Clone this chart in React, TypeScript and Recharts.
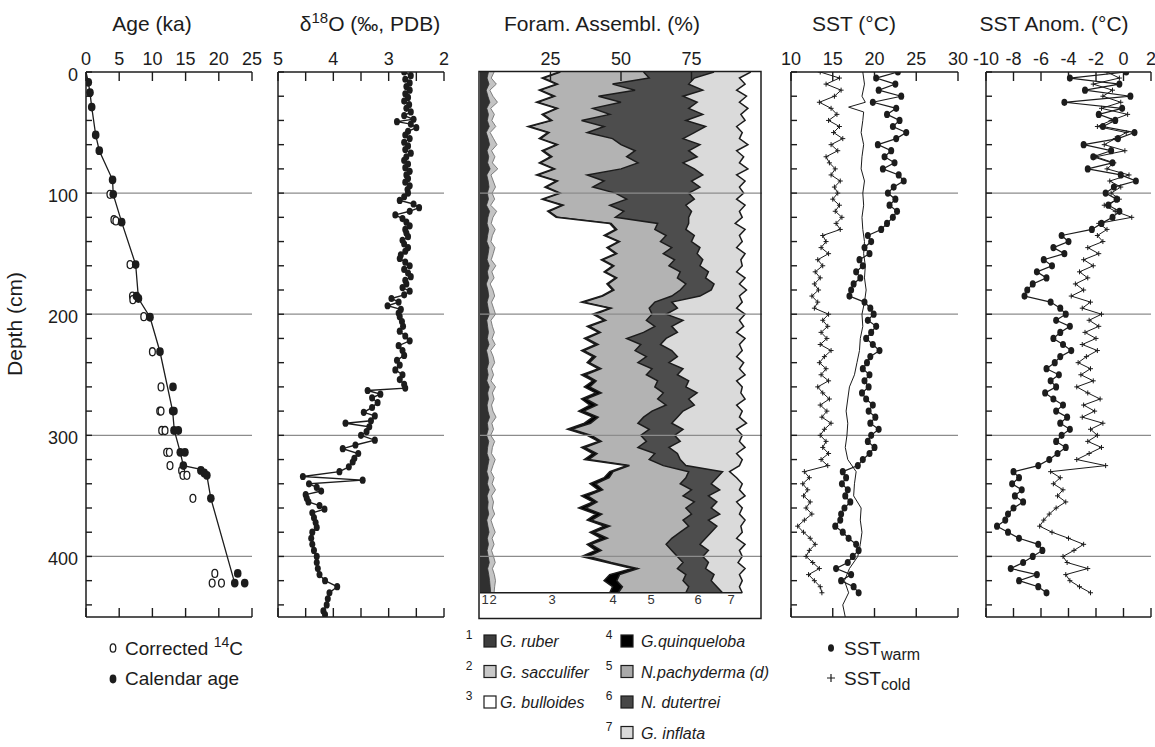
import React from 'react'
import {
    ScatterChart,
    ComposedChart,
    Scatter,
    Area,
    XAxis,
    YAxis,
    ReferenceLine,
} from 'recharts'

const FONT = '"Liberation Sans", Arial, Helvetica, sans-serif'
const INK = '#1c1c1c'
const GRID = '#8c8c8c'

const CHART_H = 640
const PLOT_TOP = 72
const PLOT_BOTTOM = 617

// shared depth axis
const depthTicks = [0, 20, 40, 60, 80, 100, 120, 140, 160, 180, 200, 220, 240, 260, 280, 300, 320, 340, 360, 380, 400, 420, 440]
const depthLabels = [0, 100, 200, 300, 400]
const gridDepths = [100, 200, 300, 400]

// ---- Age model ----
const calDepth = [8.5, 17, 29, 52, 65, 89, 101, 124, 159, 185, 187, 202.5, 231, 260, 280, 280, 296, 296, 314, 314, 325, 329, 331, 333, 352, 414, 422, 422]
const calAge = [0.35, 0.6, 0.86, 1.46, 2.0, 4.0, 4.1, 5.37, 7.48, 7.6, 7.9, 9.64, 11.14, 13.1, 13.05, 13.25, 13.25, 13.9, 14.2, 14.9, 14.66, 17.3, 17.8, 18.2, 18.8, 22.85, 22.4, 23.9]
const c14Depth = [101, 122, 123, 159, 185, 188, 202, 231, 260, 280, 280, 296, 296, 314, 314, 325, 329, 333, 333, 352, 414, 422, 422]
const c14Age = [3.6, 4.2, 4.5, 6.63, 7.0, 7.05, 8.7, 10.0, 11.3, 11.1, 11.3, 11.4, 11.9, 12.15, 12.55, 12.65, 14.4, 14.6, 15.2, 16.1, 19.4, 19.0, 20.4]
const ageLineDepth = [0, 8.5, 17, 29, 52, 65, 89, 101, 124, 159, 187, 202.5, 231, 280, 296, 314, 325, 328, 333, 352, 422]
const ageLineAge = [0, 0.35, 0.6, 0.86, 1.46, 2.0, 4.0, 4.1, 5.37, 7.48, 7.9, 9.64, 11.14, 13.05, 13.3, 14.2, 14.66, 17.3, 18.2, 18.8, 22.4]

// ---- d18O ----
const d18Depth = [
    0, 3, 6, 9, 12, 15, 18, 21, 24, 27,
    30, 33, 36, 39, 41, 43, 46, 49, 52, 55,
    58, 61, 64, 67, 70, 73, 76, 79, 82, 85,
    88, 91, 94, 97, 100, 103, 106, 109, 112, 115,
    118, 121, 124, 127, 130, 133, 136, 139, 142, 145,
    148, 151, 154, 157, 160, 163, 166, 169, 172, 175,
    178, 181, 184, 187, 190, 193, 196, 199, 202, 206,
    210, 214, 218, 222, 226, 230, 234, 238, 242, 246,
    250, 254, 258, 261, 263, 266, 269, 273, 277, 281,
    284, 288, 290, 293, 297, 300, 304, 308, 311, 315,
    319, 322, 326, 330, 334, 337, 340, 343, 346, 349,
    352, 355, 358, 361, 364, 368, 372, 376, 380, 385,
    390, 395, 400, 405, 410, 415, 420, 425, 430, 435,
    440, 445, 448,
]
const d18Value = [
    2.72, 2.6, 2.7, 2.62, 2.68, 2.62, 2.7, 2.65, 2.72, 2.63,
    2.68, 2.6, 2.72, 2.55, 2.85, 2.6, 2.5, 2.65, 2.7, 2.62,
    2.72, 2.65, 2.7, 2.6, 2.68, 2.72, 2.65, 2.7, 2.62, 2.68,
    2.65, 2.7, 2.62, 2.66, 2.65, 2.72, 2.8, 2.55, 2.45, 2.62,
    2.88, 2.75, 2.68, 2.62, 2.7, 2.68, 2.65, 2.75, 2.72, 2.65,
    2.7, 2.78, 2.8, 2.7, 2.62, 2.72, 2.65, 2.6, 2.7, 2.68,
    2.75, 2.62, 2.72, 2.95, 2.82, 3.02, 2.78, 2.82, 2.8, 2.76,
    2.74, 2.8, 2.7, 2.62, 2.82, 2.75, 2.72, 2.85, 2.8, 2.88,
    2.75, 2.8, 2.72, 2.7, 3.38, 3.15, 3.3, 3.2, 3.3, 3.45,
    3.25, 3.32, 3.78, 3.35, 3.4, 3.5, 3.25, 3.6, 3.83, 3.55,
    3.62, 3.65, 3.72, 3.89, 4.55, 3.47, 4.44, 4.3, 4.22, 4.5,
    4.48, 4.45, 4.25, 4.16, 4.38, 4.35, 4.32, 4.3, 4.38, 4.4,
    4.38, 4.35, 4.3, 4.3, 4.28, 4.25, 4.15, 3.93, 4.07, 4.1,
    4.12, 4.18, 4.15,
]

// ---- Foram assemblage: cumulative % (right edge of each species band) ----
const foramDepth = [
    0, 5, 10, 15, 20, 25, 30, 35, 40, 45,
    50, 55, 60, 65, 70, 75, 80, 85, 90, 95,
    100, 105, 110, 115, 120, 125, 130, 135, 140, 145,
    150, 155, 160, 165, 170, 175, 180, 185, 190, 195,
    200, 205, 210, 215, 220, 225, 230, 235, 240, 245,
    250, 255, 260, 265, 270, 275, 280, 285, 290, 295,
    300, 305, 310, 315, 320, 325, 330, 335, 340, 345,
    350, 355, 360, 365, 370, 375, 380, 385, 390, 395,
    400, 405, 410, 415, 420, 425, 430,
]
const cumRuber = [
    3, 2.5, 3.2, 2.2, 2.8, 3.5, 2.4, 3, 2.6, 3.3,
    2.2, 2.9, 3.4, 2.5, 3.1, 2.7, 3.6, 2.4, 2.9, 3.2,
    2.6, 3, 2.3, 3.4, 2.8, 2.5, 3.1, 2.7, 2.4, 3.2,
    2.9, 2.5, 3.3, 2.6, 3, 2.2, 2.8, 3.1, 2.5, 2.9,
    3.3, 2.4, 2.7, 3, 2.6, 3.2, 2.3, 2.8, 3.1, 2.5,
    2.9, 2.4, 3.3, 2.7, 3, 2.5, 2.8, 3.4, 2.6, 2.9,
    2.3, 3.1, 2.7, 2.5, 3.2, 2.8, 2.4, 3, 2.6, 3.3,
    2.5, 2.9, 2.7, 3.1, 2.4, 2.8, 3.2, 2.6, 3, 2.5,
    2.9, 3.3, 2.7, 3.1, 3.4, 3.6, 3.8,
]
const cumSacculifer = [
    5, 4, 5.8, 3.5, 4.6, 6.2, 3.8, 5.1, 4.2, 5.6,
    3.6, 4.8, 6, 4.1, 5.3, 4.4, 6.3, 3.9, 4.7, 5.5,
    4.3, 5.2, 3.8, 5.9, 4.6, 4, 5.4, 4.4, 3.9, 5.3,
    4.7, 4, 5.6, 4.2, 5, 3.6, 4.6, 5.2, 4.1, 4.8,
    5.5, 3.9, 4.4, 5.1, 4.3, 5.4, 3.8, 4.7, 5.2, 4.1,
    4.8, 3.9, 5.5, 4.4, 5, 4.1, 4.6, 5.7, 4.2, 4.8,
    3.8, 5.2, 4.4, 4.1, 5.4, 4.6, 3.9, 5, 4.3, 5.5,
    4.1, 4.8, 4.4, 5.2, 3.9, 4.6, 5.4, 4.3, 5, 4.1,
    4.8, 5.4, 4.4, 5.1, 5.5, 5.2, 5,
]
const cumBulloides = [
    28, 22, 27, 21, 26, 20, 27, 22, 25, 17,
    24, 21, 27, 22, 25, 21, 26, 20, 27, 23,
    28, 22, 29, 24, 27, 46, 48, 44, 49, 45,
    48, 43, 47, 44, 48, 45, 47, 43, 36, 46,
    40, 44, 38, 42, 37, 41, 36, 40, 38, 42,
    36, 40, 37, 41, 36, 39, 35, 40, 37, 31,
    38, 42, 36, 40, 37, 52, 46, 44, 39, 42,
    36, 40, 35, 41, 38, 44, 39, 43, 38, 41,
    36, 45, 54, 46, 44, 47, 46,
]
const cumQuinqueloba = [
    28.5, 22.5, 27.5, 21.5, 26.5, 20.5, 27.5, 22.5, 25.5, 17.5,
    24.5, 21.5, 27.5, 22.5, 25.5, 21.5, 26.5, 20.5, 27.5, 23.5,
    28.5, 22.5, 29.5, 24.5, 27.5, 46.5, 48.5, 44.5, 49.5, 45.5,
    48.5, 43.5, 47.5, 44.5, 48.5, 45.5, 47.5, 43.5, 36.8, 46.5,
    40.8, 44.6, 38.9, 42.7, 37.8, 41.9, 36.9, 41, 38.8, 42.9,
    37.5, 41.2, 38.9, 43, 37.6, 41.5, 36.8, 41.9, 39.2, 32.5,
    39.5, 43, 37.2, 41.5, 38.5, 53, 47.2, 45.8, 41, 43.5,
    38.2, 41.5, 37.5, 43.2, 39.6, 46, 40.5, 45.2, 39.4, 43,
    38.5, 46.5, 56, 49.5, 48.5, 50.5, 49,
]
const cumPachyderma = [
    58, 60, 47, 55, 42, 50, 40, 46, 36, 44,
    38, 47, 50, 55, 52, 56, 50, 38, 44, 40,
    48, 52, 46, 51, 48, 63, 62, 66, 64, 68,
    65, 69, 67, 71, 70, 73, 71, 68, 62, 60,
    61, 59, 62, 58, 52, 57, 55, 59, 56, 61,
    59, 63, 62, 65, 63, 66, 61, 58, 56, 60,
    57, 59, 56, 62, 60, 65, 74, 73, 71, 75,
    72, 76, 73, 75, 72, 74, 71, 68, 66, 68,
    70, 72, 70, 73, 72, 74, 73,
]
const cumDutertrei = [
    83, 76, 74, 79, 72, 77, 74, 79, 73, 80,
    76, 72, 78, 74, 77, 72, 76, 79, 75, 78,
    74, 76, 73, 75, 74, 74, 73, 76, 75, 78,
    77, 79, 78, 81, 80, 83, 82, 78, 68, 70,
    66, 72, 68, 70, 66, 64, 68, 70, 67, 72,
    70, 74, 73, 77, 74, 76, 72, 70, 68, 72,
    69, 71, 67, 70, 71, 73, 86, 84, 82, 85,
    81, 84, 82, 85, 81, 84, 82, 80, 78, 81,
    79, 81, 80, 83, 82, 84, 86,
]
const cumInflata = [
    96, 92, 94, 91, 94.5, 92, 95, 92.5, 94, 91,
    93, 92, 95, 91, 93.5, 92, 95, 91, 94, 92,
    93.5, 91, 94, 92, 93, 90.5, 94, 92, 93, 91,
    94, 92.5, 93, 91, 94, 92, 94.5, 92, 93, 91,
    94, 92, 93.5, 91, 94, 92, 93, 91, 93.5, 92,
    94, 91, 93, 92.5, 94, 91, 93, 92, 94.5, 91,
    93, 92, 94, 91, 93, 92, 88.5, 91, 93, 92,
    94, 91, 93, 92, 94, 92.5, 93, 91, 94, 92,
    93, 91.5, 94, 92, 93, 92, 93,
]

// ---- SST ----
const sstDepth = foramDepth
const sstCold = [
    13.5, 15.8, 14.2, 16.0, 15.2, 13.4, 14.8, 15.5, 14.5, 15.8,
    15.1, 16.2, 14.8, 15.6, 14.2, 14.6, 15.3, 14.8, 15.9, 15.2,
    15.6, 15.0, 15.8, 15.3, 16.1, 15.4, 15.9, 13.8, 14.2, 13.6,
    14.5, 13.2, 13.8, 12.9, 13.5, 12.8, 13.3, 12.5, 13.2, 12.8,
    14.5, 13.8, 14.4, 13.6, 14.3, 13.5, 14.8, 14.0, 13.4, 14.2,
    13.6, 14.5, 13.2, 13.8, 14.6, 13.5, 14.3, 13.7, 14.8, 14.0,
    13.5, 14.2, 13.8, 14.5, 13.6, 14.4, 11.6, 12.2, 11.4, 12.0,
    11.5, 12.3, 11.8, 12.5, 11.6, 10.8, 11.5, 12.3, 12.9, 12.2,
    11.8, 12.6, 13.4, 12.1, 12.8, 13.5, 13.7,
]
const sstWarm = [
    22.8, 20.2, 22.5, 20.5, 23.2, 19.8, 22.6, 21.5, 23.0, 22.2,
    23.8, 22.6, 20.4, 22.0, 21.2, 22.4, 21.0, 22.9, 23.5, 22.3,
    21.6, 22.5, 21.8, 22.7, 22.2, 21.5, 20.8, 19.2, 19.6, 18.8,
    19.4, 18.2, 18.6, 17.8, 18.3, 17.5, 17.2, 17.0, 18.8, 19.5,
    19.9, 19.2, 20.2, 19.6, 19.0, 19.8, 20.6, 19.5, 19.1, 18.6,
    19.4, 18.8, 19.3, 18.5, 19.0, 19.8, 19.3, 20.1, 19.5, 20.5,
    19.6, 19.2, 20.0, 19.4, 18.6, 18.0, 16.2, 16.6, 16.1, 16.8,
    16.5, 17.1, 16.4, 16.0, 15.9, 15.3, 16.2, 16.9, 17.8, 18.1,
    17.4, 16.8, 15.4, 17.2, 16.0, 17.5, 18.1,
]
const thinDepth = [0, 10, 20, 25, 29, 33, 40, 50, 60, 70, 80, 90, 100, 110, 120, 130, 140, 150, 160, 170, 180, 190, 200, 210, 220, 230, 240, 250, 260, 270, 280, 290, 300, 310, 320, 330, 340, 350, 360, 370, 380, 390, 400, 410, 420, 430, 440, 450]
const thinSst = [18.6, 18.8, 18.5, 18.9, 16.9, 18.7, 18.6, 18.4, 18.7, 18.5, 18.4, 18.8, 18.6, 18.7, 18.5, 18.6, 18.8, 18.7, 18.9, 18.8, 19.0, 18.8, 18.5, 18.6, 18.3, 18.2, 17.9, 17.6, 17.0, 16.8, 16.6, 16.8, 16.7, 16.5, 16.8, 17.8, 17.6, 17.5, 18.4, 18.3, 18.5, 18.3, 18.0, 17.0, 16.4, 16.9, 16.2, 16.5]

// ---- SST anomalies ----
const anomWarm = [
    0.2, -3.9, -0.3, -2.8, 0.5, -4.3, -0.1, -1.8, -0.6, -1.5,
    0.8, -0.4, -2.9, -0.9, -2.2, -0.8, -2.6, -0.2, 0.9, -0.7,
    -1.3, -0.5, -1.1, -0.3, -0.8, -1.6, -2.3, -4.5, -4.0, -5.1,
    -4.3, -5.8, -5.2, -6.3, -5.6, -6.6, -7.0, -7.2, -5.3, -4.6,
    -4.2, -4.9, -3.9, -4.6, -5.1, -4.4, -3.8, -4.6, -5.0, -5.6,
    -4.7, -5.3, -4.9, -5.7, -5.1, -4.4, -4.9, -4.1, -4.6, -3.9,
    -4.5, -4.9, -4.2, -4.8, -5.4, -6.2, -8.0, -7.6, -8.1, -7.4,
    -7.9, -7.3, -8.0, -8.4, -8.6, -9.2, -8.4, -7.6, -6.2, -5.9,
    -6.6, -7.3, -8.2, -6.3, -7.6, -6.2, -5.6,
]
const anomCold = [
    -1.2, -0.3, -2.2, -0.8, -1.5, -0.2, -1.6, 0.3, -0.9, -1.9,
    0.2, -0.6, -1.4, 0.1, -2.0, -0.7, -1.2, 0.4, -1.0, -0.2,
    -0.9, -0.3, -1.4, -0.6, 0.6, -1.8, -1.2, -1.9, -1.5, -2.6,
    -1.8, -2.9, -2.2, -3.2, -2.6, -3.5, -2.9, -3.8, -2.4, -3.0,
    -1.6, -2.5, -1.8, -2.8, -2.0, -3.0, -1.9, -2.7, -3.3, -2.4,
    -3.1, -2.2, -3.4, -2.6, -1.7, -2.9, -2.1, -3.0, -1.5, -2.4,
    -1.9, -2.6, -1.6, -2.5, -3.4, -1.3, -5.3, -4.6, -5.1, -4.4,
    -4.8, -4.2, -4.9, -5.4, -5.8, -6.1, -5.2, -4.0, -2.9, -3.6,
    -4.4, -4.1, -2.6, -4.2, -3.9, -3.2, -2.4,
]

const pts = (xs: number[], ys: number[]) => xs.map((x, i) => ({ x, y: ys[i] }))

const TopTick = ({ x, y, payload, labels }: any) => (
    <g>
        <line x1={x} x2={x} y1={y} y2={y + 9} stroke={INK} strokeWidth={1.4} />
        {labels.includes(payload.value) && (
            <text x={x} y={y - 7} textAnchor="middle" fontSize={18} fill={INK} fontFamily={FONT}>
                {payload.value}
            </text>
        )}
    </g>
)

const BottomTick = ({ x, y }: any) => (
    <line x1={x} x2={x} y1={y} y2={y - 9} stroke={INK} strokeWidth={1.4} />
)

const LeftTick = ({ x, y, payload, show }: any) => (
    <g>
        <line x1={x} x2={x + 6} y1={y} y2={y} stroke={INK} strokeWidth={1.4} />
        {show && depthLabels.includes(payload.value) && (
            <text x={x - 8} y={y + 8.5} textAnchor="end" fontSize={18} fill={INK} fontFamily={FONT}>
                {payload.value}
            </text>
        )}
    </g>
)

const Dot = ({ cx, cy }: any) => <ellipse cx={cx} cy={cy} rx={3} ry={3.6} fill={INK} />
const BigDot = ({ cx, cy }: any) => <ellipse cx={cx} cy={cy} rx={3.8} ry={4.4} fill={INK} />
const Ring = ({ cx, cy }: any) => (
    <ellipse cx={cx} cy={cy} rx={2.9} ry={4} fill="#fff" stroke={INK} strokeWidth={1.3} />
)
const Plus = ({ cx, cy }: any) => (
    <path d={`M${cx - 2.5},${cy}h5M${cx},${cy - 2.5}v5`} stroke={INK} strokeWidth={1} />
)
const NoShape = () => <g />

interface PanelProps {
    left: number
    width: number
    plotLeft: number
    plotRight: number
    domain: [number, number]
    ticks: number[]
    labels: number[]
    reversed?: boolean
    showDepth?: boolean
    children: React.ReactNode
}

const DepthPanel = ({ left, width, plotLeft, plotRight, domain, ticks, labels, reversed, showDepth, children }: PanelProps) => (
    <div style={{ position: 'absolute', left, top: 0 }}>
        <ScatterChart
            width={width}
            height={CHART_H}
            margin={{
                top: PLOT_TOP - 20,
                bottom: CHART_H - PLOT_BOTTOM - 10,
                left: plotLeft - left - 10,
                right: left + width - plotRight,
            }}
        >
            <XAxis
                xAxisId="t"
                orientation="top"
                type="number"
                dataKey="x"
                domain={domain}
                ticks={ticks}
                reversed={reversed}
                height={20}
                interval={0}
                tickSize={0}
                tickMargin={0}
                tickLine={false}
                axisLine={{ stroke: INK, strokeWidth: 1.5 }}
                tick={(p: any) => <TopTick {...p} labels={labels} />}
                allowDataOverflow
            />
            <XAxis
                xAxisId="b"
                orientation="bottom"
                type="number"
                dataKey="x"
                domain={domain}
                ticks={ticks}
                reversed={reversed}
                height={10}
                interval={0}
                tickSize={0}
                tickMargin={0}
                tickLine={false}
                axisLine={{ stroke: INK, strokeWidth: 1.5 }}
                tick={(p: any) => <BottomTick {...p} />}
                allowDataOverflow
            />
            <YAxis
                yAxisId="d"
                type="number"
                dataKey="y"
                domain={[0, 450]}
                reversed
                ticks={depthTicks}
                width={10}
                interval={0}
                tickSize={0}
                tickMargin={0}
                tickLine={false}
                axisLine={{ stroke: INK, strokeWidth: 1.5 }}
                tick={(p: any) => <LeftTick {...p} show={showDepth} />}
                allowDataOverflow
            />
            {gridDepths.map((g) => (
                <ReferenceLine key={g} xAxisId="t" yAxisId="d" y={g} stroke={GRID} strokeWidth={1.3} />
            ))}
            {children}
        </ScatterChart>
    </div>
)

const foramRows = foramDepth.map((depth, i) => ({
    depth,
    ruber: cumRuber[i],
    sacculifer: cumSacculifer[i],
    bulloides: cumBulloides[i],
    quinqueloba: cumQuinqueloba[i],
    pachyderma: cumPachyderma[i],
    dutertrei: cumDutertrei[i],
    inflata: cumInflata[i],
}))

// drawn widest first so each narrower cumulative band sits on top
const foramSeries = [
    { key: 'inflata', fill: '#dadada', stroke: INK, w: 1.5 },
    { key: 'dutertrei', fill: '#4d4d4d', stroke: INK, w: 1.5 },
    { key: 'pachyderma', fill: '#b3b3b3', stroke: INK, w: 1.5 },
    { key: 'quinqueloba', fill: '#000000', stroke: INK, w: 1.5 },
    { key: 'bulloides', fill: '#ffffff', stroke: INK, w: 1.5 },
    { key: 'sacculifer', fill: '#c4c4c4', stroke: '#666', w: 0.8 },
    { key: 'ruber', fill: '#303030', stroke: '#303030', w: 0.8 },
]

const foramLegend = [
    { n: 1, name: 'G. ruber', fill: '#3d3d3d', col: 0, row: 0 },
    { n: 2, name: 'G. sacculifer', fill: '#c8c8c8', col: 0, row: 1 },
    { n: 3, name: 'G. bulloides', fill: '#ffffff', col: 0, row: 2 },
    { n: 4, name: 'G.quinqueloba', fill: '#000000', col: 1, row: 0 },
    { n: 5, name: 'N.pachyderma (d)', fill: '#aaaaaa', col: 1, row: 1 },
    { n: 6, name: 'N. dutertrei', fill: '#474747', col: 1, row: 2 },
    { n: 7, name: 'G. inflata', fill: '#d9d9d9', col: 1, row: 3 },
]
const speciesMarks = [
    { n: '1', x: 485 },
    { n: '2', x: 493 },
    { n: '3', x: 552 },
    { n: '4', x: 613 },
    { n: '5', x: 651 },
    { n: '6', x: 698 },
    { n: '7', x: 731 },
]

const App = () => {
    const lastDepth = foramDepth[foramDepth.length - 1]
    return (
        <div
            style={{
                position: 'absolute',
                left: 0,
                top: 0,
                width: 1155,
                height: 747,
                background: '#fff',
                fontFamily: FONT,
                overflow: 'hidden',
            }}
        >
            {/* Age */}
            <DepthPanel left={0} width={280} plotLeft={86} plotRight={252} domain={[0, 25]} ticks={[0, 5, 10, 15, 20, 25]} labels={[0, 5, 10, 15, 20, 25]} showDepth>
                <Scatter xAxisId="t" yAxisId="d" data={pts(ageLineAge, ageLineDepth)} line={{ stroke: INK, strokeWidth: 1.3 }} lineType="joint" shape={NoShape} isAnimationActive={false} />
                <Scatter xAxisId="t" yAxisId="d" data={pts(c14Age, c14Depth)} shape={Ring} isAnimationActive={false} />
                <Scatter xAxisId="t" yAxisId="d" data={pts(calAge, calDepth)} shape={BigDot} isAnimationActive={false} />
            </DepthPanel>

            {/* d18O */}
            <DepthPanel left={260} width={200} plotLeft={278} plotRight={444} domain={[2, 5]} ticks={[2, 2.5, 3, 3.5, 4, 4.5, 5]} labels={[2, 3, 4, 5]} reversed>
                <Scatter xAxisId="t" yAxisId="d" data={pts(d18Value, d18Depth)} line={{ stroke: INK, strokeWidth: 1.4 }} lineType="joint" shape={Dot} isAnimationActive={false} />
            </DepthPanel>

            {/* Foram assemblage */}
            <div style={{ position: 'absolute', left: 470, top: 0 }}>
                <ComposedChart
                    layout="vertical"
                    width={300}
                    height={CHART_H}
                    data={foramRows}
                    margin={{ top: PLOT_TOP - 20, bottom: CHART_H - PLOT_BOTTOM, left: 10, right: 8 }}
                >
                    <XAxis
                        orientation="top"
                        type="number"
                        domain={[0, 100]}
                        ticks={[25, 50, 75]}
                        height={20}
                        interval={0}
                        tickSize={0}
                        tickMargin={0}
                        tickLine={false}
                        axisLine={false}
                        tick={(p: any) => <TopTick {...p} labels={[25, 50, 75]} />}
                        allowDataOverflow
                    />
                    <YAxis type="number" dataKey="depth" domain={[0, 450]} hide allowDataOverflow />
                    {foramSeries.map((s) => (
                        <Area
                            key={s.key}
                            type="linear"
                            dataKey={s.key}
                            fill={s.fill}
                            fillOpacity={1}
                            stroke={s.stroke}
                            strokeWidth={s.w}
                            isAnimationActive={false}
                            dot={false}
                            activeDot={false}
                        />
                    ))}
                    <ReferenceLine
                        segment={[
                            { x: 0, y: lastDepth },
                            { x: cumInflata[cumInflata.length - 1], y: lastDepth },
                        ]}
                        stroke={INK}
                        strokeWidth={1.5}
                    />
                    {gridDepths.map((g) => (
                        <ReferenceLine key={g} y={g} stroke={GRID} strokeWidth={1.3} />
                    ))}
                </ComposedChart>
            </div>

            {/* SST */}
            <DepthPanel left={770} width={200} plotLeft={791} plotRight={958} domain={[10, 30]} ticks={[10, 15, 20, 25, 30]} labels={[10, 15, 20, 25, 30]}>
                <Scatter xAxisId="t" yAxisId="d" data={pts(sstCold, sstDepth)} line={{ stroke: INK, strokeWidth: 1 }} lineType="joint" shape={Plus} isAnimationActive={false} />
                <Scatter xAxisId="t" yAxisId="d" data={pts(thinSst, thinDepth)} line={{ stroke: INK, strokeWidth: 1 }} lineType="joint" shape={NoShape} isAnimationActive={false} />
                <Scatter xAxisId="t" yAxisId="d" data={pts(sstWarm, sstDepth)} line={{ stroke: INK, strokeWidth: 1.2 }} lineType="joint" shape={Dot} isAnimationActive={false} />
            </DepthPanel>

            {/* SST anomaly */}
            <DepthPanel left={965} width={190} plotLeft={986} plotRight={1151} domain={[-10, 2]} ticks={[-10, -8, -6, -4, -2, 0, 2]} labels={[-10, -8, -6, -4, -2, 0, 2]}>
                <Scatter xAxisId="t" yAxisId="d" data={pts(anomCold, sstDepth)} line={{ stroke: INK, strokeWidth: 1 }} lineType="joint" shape={Plus} isAnimationActive={false} />
                <Scatter xAxisId="t" yAxisId="d" data={pts(anomWarm, sstDepth)} line={{ stroke: INK, strokeWidth: 1.2 }} lineType="joint" shape={Dot} isAnimationActive={false} />
            </DepthPanel>

            {/* titles, legends, frame */}
            <svg
                width={1155}
                height={747}
                style={{ position: 'absolute', left: 0, top: 0, pointerEvents: 'none' }}
                fontFamily={FONT}
                fill={INK}
            >
                <text x={152} y={31} fontSize={21} textAnchor="middle">Age (ka)</text>
                <text x={370} y={31} fontSize={21} textAnchor="middle">
                    δ<tspan dy={-8} fontSize={15}>18</tspan>
                    <tspan dy={8}>O (‰, PDB)</tspan>
                </text>
                <text x={602} y={31} fontSize={21} textAnchor="middle">Foram. Assembl. (%)</text>
                <text x={854} y={31} fontSize={21} textAnchor="middle">SST (°C)</text>
                <text x={1054} y={31} fontSize={21} textAnchor="middle">SST Anom. (°C)</text>
                <text transform="translate(22,324) rotate(-90)" fontSize={21} textAnchor="middle">Depth (cm)</text>

                {/* foram box */}
                <rect x={479} y={71.5} width={282} height={547} fill="none" stroke={INK} strokeWidth={1.5} />
                {speciesMarks.map((m) => (
                    <text key={m.n} x={m.x} y={604} fontSize={13} textAnchor="middle" fill="#333">{m.n}</text>
                ))}

                {/* age legend */}
                <ellipse cx={113} cy={648} rx={2.8} ry={4.2} fill="#fff" stroke={INK} strokeWidth={1.3} />
                <text x={125} y={655} fontSize={19}>
                    Corrected <tspan dy={-8} fontSize={14}>14</tspan>
                    <tspan dy={8}>C</tspan>
                </text>
                <ellipse cx={113} cy={679} rx={3.4} ry={4.4} fill={INK} />
                <text x={125} y={685} fontSize={19}>Calendar age</text>

                {/* foram legend */}
                {foramLegend.map((l) => {
                    const base = 647 + l.row * 30.5
                    const nx = l.col === 0 ? 469 : 609
                    const sx = l.col === 0 ? 484 : 621
                    const tx = l.col === 0 ? 500 : 641
                    return (
                        <g key={l.n}>
                            <text x={nx} y={base - 8} fontSize={12} textAnchor="middle">{l.n}</text>
                            <rect x={sx} y={base - 12} width={12} height={12} fill={l.fill} stroke={INK} strokeWidth={1.2} />
                            <text x={tx} y={base} fontSize={16} fontStyle="italic">{l.name}</text>
                        </g>
                    )
                })}

                {/* SST legend */}
                <ellipse cx={831} cy={648} rx={3} ry={3.8} fill={INK} />
                <text x={844} y={655} fontSize={19}>
                    SST<tspan dy={5} fontSize={16}>warm</tspan>
                </text>
                <path d="M827,678h8M831,674v8" stroke={INK} strokeWidth={1.2} />
                <text x={844} y={685} fontSize={19}>
                    SST<tspan dy={5} fontSize={16}>cold</tspan>
                </text>
            </svg>
        </div>
    )
}

export default App
